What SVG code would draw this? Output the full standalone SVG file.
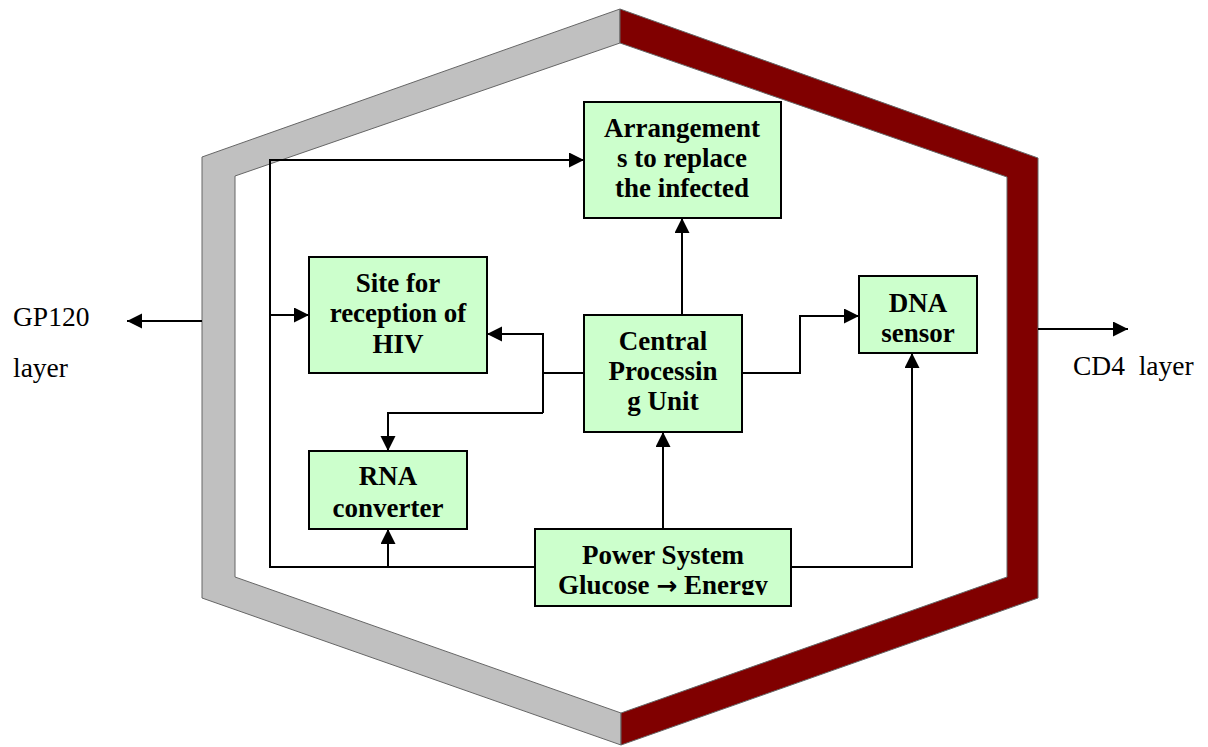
<svg xmlns="http://www.w3.org/2000/svg" width="1208" height="747" viewBox="0 0 1208 747">
<style>
.box{fill:#ccffcc;stroke:#000;stroke-width:2}
.t{font-family:"Liberation Serif","Times New Roman",serif;font-weight:bold;font-size:27px;fill:#000;text-anchor:middle}
.lbl{font-family:"Liberation Serif","Times New Roman",serif;font-size:27.5px;fill:#000}
.c{fill:none;stroke:#000;stroke-width:2}
.band{stroke:#666;stroke-width:1;stroke-linejoin:miter}
.arr{font-family:"DejaVu Sans",sans-serif;font-weight:bold;font-size:25px}
</style>
<defs>
<marker id="ah" markerUnits="userSpaceOnUse" markerWidth="16" markerHeight="16" refX="15" refY="7.5" orient="auto">
<path d="M0,0 L15,7.5 L0,15 z" fill="#000"/>
</marker>
<clipPath id="pclip"><rect x="536" y="530" width="254" height="65"/></clipPath>
</defs>
<rect width="1208" height="747" fill="#fff"/>
<g id="membrane">
<polygon class="band" fill="#c0c0c0" points="620,9 202,157 202,598 621,745 621,713 235,577 235,176 620,43"/>
<polygon class="band" fill="#800000" points="620,9 1038,158 1038,598 621,745 621,713 1007,577 1007,177 620,43"/>
</g>
<g id="connectors">
<polyline class="c" points="535,567 270,567 270,160 584,160" marker-end="url(#ah)"/>
<line class="c" x1="270" y1="315" x2="309" y2="315" marker-end="url(#ah)"/>
<line class="c" x1="388" y1="567" x2="388" y2="529" marker-end="url(#ah)"/>
<line class="c" x1="663" y1="528" x2="663" y2="432" marker-end="url(#ah)"/>
<polyline class="c" points="791,567 912,567 912,353" marker-end="url(#ah)"/>
<line class="c" x1="682" y1="315" x2="682" y2="218" marker-end="url(#ah)"/>
<polyline class="c" points="742,373 800,373 800,316 859,316" marker-end="url(#ah)"/>
<line class="c" x1="584" y1="373" x2="543" y2="373"/>
<polyline class="c" points="543,413 543,334 487,334" marker-end="url(#ah)"/>
<polyline class="c" points="543,413 388,413 388,451" marker-end="url(#ah)"/>
<line class="c" x1="202" y1="321" x2="127" y2="321" marker-end="url(#ah)"/>
<line class="c" x1="1038" y1="329" x2="1128" y2="329" marker-end="url(#ah)"/>
</g>
<g id="arrangements">
<rect class="box" x="584" y="102" width="197" height="116"/>
<text class="t" x="682" y="137">Arrangement</text>
<text class="t" x="682" y="167">s to replace</text>
<text class="t" x="682" y="197">the infected</text>
</g>
<g id="site">
<rect class="box" x="309" y="257" width="178" height="116"/>
<text class="t" x="398" y="292">Site for</text>
<text class="t" x="398" y="322">reception of</text>
<text class="t" x="398" y="353">HIV</text>
</g>
<g id="cpu">
<rect class="box" x="584" y="315" width="158" height="117"/>
<text class="t" x="663" y="350">Central</text>
<text class="t" x="663" y="380">Processin</text>
<text class="t" x="663" y="410">g Unit</text>
</g>
<g id="dna">
<rect class="box" x="859" y="276" width="118" height="77"/>
<text class="t" x="918" y="312">DNA</text>
<text class="t" x="918" y="342">sensor</text>
</g>
<g id="rna">
<rect class="box" x="309" y="451" width="158" height="78"/>
<text class="t" x="388" y="485">RNA</text>
<text class="t" x="388" y="517">converter</text>
</g>
<g id="power">
<rect class="box" x="535" y="529" width="256" height="77"/>
<g clip-path="url(#pclip)">
<text class="t" x="663" y="564">Power System</text>
<text class="t" x="663" y="594">Glucose <tspan class="arr">→</tspan> Energy</text>
</g>
</g>
<g id="gp120">
<text class="lbl" x="13" y="326">GP120</text>
<text class="lbl" x="13" y="377">layer</text>
</g>
<g id="cd4">
<text class="lbl" x="1073" y="375" xml:space="preserve">CD4  layer</text>
</g>
</svg>
